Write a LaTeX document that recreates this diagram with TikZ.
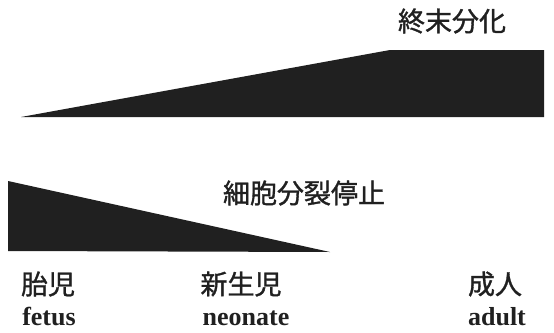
\documentclass[tikz,border=0pt]{standalone}
\usepackage{fontspec}
\setmainfont{Liberation Serif}
\newfontfamily\cjk{Noto Sans CJK JP}[FakeBold=1.2]
\definecolor{ink}{HTML}{202020}
\tikzset{
  wedge/.style={fill=ink, draw=none},
  jlabel/.style={inner sep=0pt, font=\cjk\fontsize{27}{30}\selectfont, text=ink},
  elabel/.style={inner sep=0pt, anchor=base, font=\bfseries\fontsize{26}{30}\selectfont, text=ink}
}
\begin{document}
\begin{tikzpicture}[x=1pt,y=-1pt]
\useasboundingbox (0,0) rectangle (554,332);
% terminal differentiation wedge
\fill[wedge] (21,117) -- (390,50) -- (544,50) -- (544,117) -- cycle;
% cell division stop wedge
\fill[wedge] (8,181) -- (8,251) -- (330,252) -- cycle;
\node[jlabel] (diff) at (452,21) {終末分化};
\node[jlabel] (stop) at (304,193) {細胞分裂停止};
\node[jlabel] (fetusj) at (48,284) {胎児};
\node[jlabel] (neoj) at (241,284) {新生児};
\node[jlabel] (adultj) at (495,284) {成人};
\node[elabel] (fetus) at (49,325) {fetus};
\node[elabel] (neo) at (246,325) {neonate};
\node[elabel] (adult) at (497,325) {adult};
\end{tikzpicture}
\end{document}
